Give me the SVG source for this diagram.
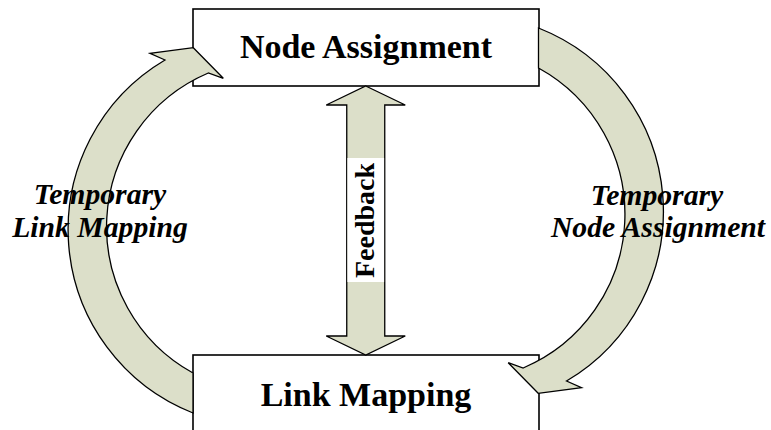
<svg xmlns="http://www.w3.org/2000/svg" width="771" height="430" viewBox="0 0 771 430">
  <style>
    .box { fill: #ffffff; stroke: #000000; stroke-width: 1.6; }
    .title { font-family: "Liberation Serif", "Times New Roman", serif; font-weight: bold; font-size: 34px; text-anchor: middle; fill: #000000; }
    .flow { fill: #dcdfc9; stroke: #000000; stroke-width: 1.3; stroke-linejoin: miter; }
    .label { font-family: "Liberation Serif", "Times New Roman", serif; font-weight: bold; font-style: italic; font-size: 29.7px; text-anchor: middle; fill: #000000; }
    .fb { font-family: "Liberation Serif", "Times New Roman", serif; font-weight: bold; font-size: 28px; text-anchor: middle; fill: #000000; }
  </style>
  <defs>
    <!-- curved block arrow on the left side; the right one is the same shape turned half a turn -->
    <path id="loop-arrow" d="M193,413 A197,197 0 0 1 165,60 L150,53.3 L193.3,47.7 L223.3,78.3 L208.3,73 A167,167 0 0 0 193,373 Z"/>
  </defs>

  <rect width="771" height="430" fill="#ffffff"/>

  <g id="node-assignment">
    <rect class="box" x="193" y="9" width="346" height="77"/>
    <text class="title" x="366" y="58">Node Assignment</text>
  </g>

  <g id="link-mapping">
    <rect class="box" x="193" y="355" width="346" height="77"/>
    <text class="title" x="366" y="406">Link Mapping</text>
  </g>

  <g id="connectors">
    <!-- Link Mapping -> Node Assignment -->
    <use href="#loop-arrow" class="flow"/>
    <!-- Node Assignment -> Link Mapping -->
    <use href="#loop-arrow" class="flow" transform="rotate(180 365.75 220.5)"/>
    <!-- two-way feedback arrow -->
    <path class="flow" d="M365.75,86 L405.25,105 L384.75,105 L384.75,336 L405.25,336 L365.75,355 L326.25,336 L346.75,336 L346.75,105 L326.25,105 Z"/>
    <rect x="347.4" y="158" width="36.7" height="124" fill="#ffffff"/>
    <text class="fb" transform="translate(373.5 220.5) rotate(-90)">Feedback</text>

    <text class="label" x="100" y="204">Temporary</text>
    <text class="label" x="100" y="237">Link Mapping</text>
    <text class="label" x="657" y="205">Temporary</text>
    <text class="label" x="658" y="237">Node Assignment</text>
  </g>
</svg>
